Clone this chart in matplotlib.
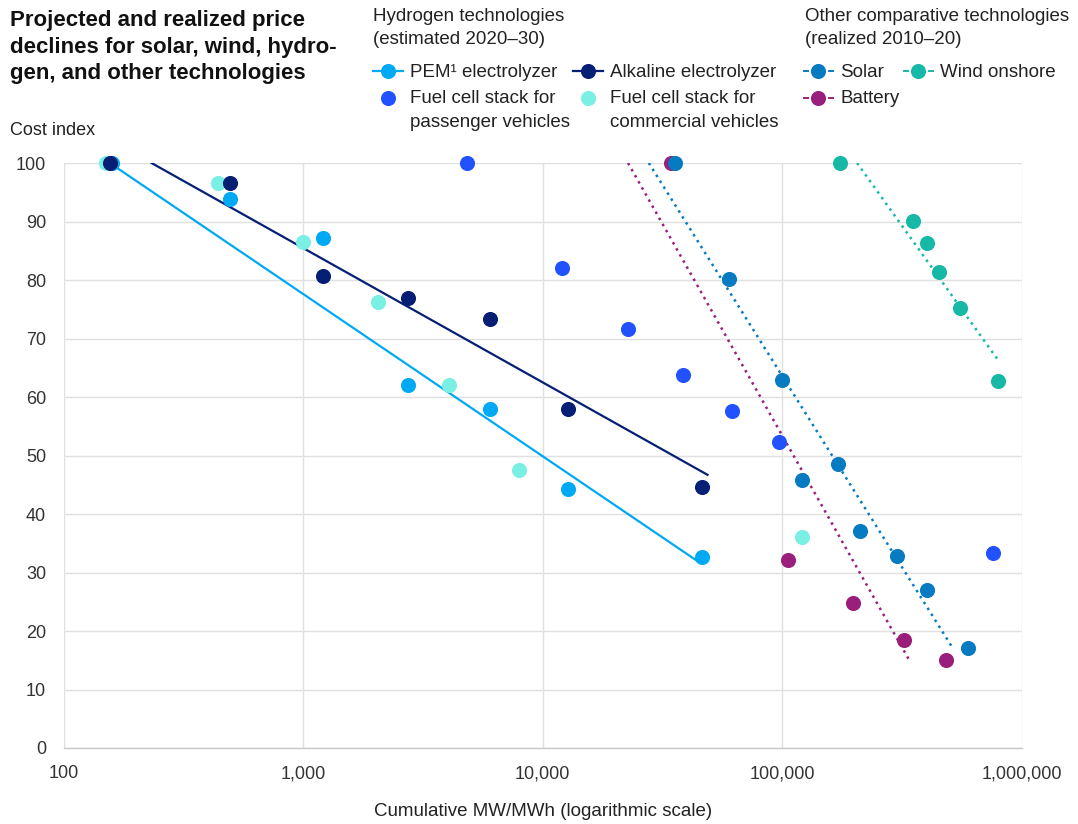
import matplotlib.pyplot as plt
from matplotlib.ticker import FixedLocator, FuncFormatter, NullLocator

plt.rcParams['font.family'] = ['Liberation Sans', 'DejaVu Sans']

# cumulative MW/MWh and cost index per technology
pem_x = [160, 495, 1214, 2742, 6012, 12760, 46100]
pem_y = [100, 93.8, 87.2, 62.1, 57.9, 44.2, 32.6]
alk_x = [156, 495, 1214, 2742, 6012, 12760, 46000]
alk_y = [100, 96.5, 80.6, 76.9, 73.4, 57.9, 44.7]
fc_pass_x = [4850, 12050, 22640, 38530, 61680, 96600, 757000]
fc_pass_y = [100, 82.1, 71.6, 63.8, 57.6, 52.3, 33.4]
fc_comm_x = [151, 443, 1000, 2057, 4047, 7925, 120500]
fc_comm_y = [100, 96.5, 86.5, 76.2, 62.1, 47.6, 36.1]
solar_x = [35560, 59700, 99800, 170700, 120500, 210400, 299700, 400000, 598000]
solar_y = [100, 80.1, 62.9, 48.5, 45.8, 37.1, 32.9, 27.0, 17.1]
battery_x = [34200, 105700, 198000, 322000, 484000]
battery_y = [100, 32.1, 24.8, 18.5, 15.1]
wind_x = [174600, 350000, 400000, 448600, 549000, 797800]
wind_y = [100, 90.1, 86.4, 81.4, 75.2, 62.7]

# trend lines (start and end points)
pem_fit_x, pem_fit_y = [156, 44400], [100, 31.9]
alk_fit_x, alk_fit_y = [233, 48700], [100, 46.7]
solar_fit_x, solar_fit_y = [27700, 510000], [100, 17.3]
battery_fit_x, battery_fit_y = [22700, 343000], [100, 14.6]
wind_fit_x, wind_fit_y = [205000, 798000], [100, 66.2]

x_ticks = [100, 1000, 10000, 100000, 1000000]
y_ticks = [0, 10, 20, 30, 40, 50, 60, 70, 80, 90, 100]

c_pem = '#00A9F4'
c_alk = '#051F75'
c_pass = '#2251FF'
c_comm = '#7AEFE4'
c_solar = '#067BC2'
c_battery = '#9A1F7C'
c_wind = '#16B8A6'
c_text = '#222222'
fs = 13.5

W, H = 1078, 824
fig = plt.figure(figsize=(W / 100, H / 100), dpi=100)

ax = fig.add_axes([63.5 / W, 1 - 748 / H, (1022 - 63.5) / W, 585 / H])
ax.set_xscale('log')
ax.set_xlim(100, 1e6)
ax.set_ylim(0, 100)
ax.xaxis.set_major_locator(FixedLocator(x_ticks))
ax.xaxis.set_minor_locator(NullLocator())
ax.xaxis.set_major_formatter(FuncFormatter(lambda v, p: '{:,.0f}'.format(v)))
ax.yaxis.set_major_locator(FixedLocator(y_ticks))
ax.grid(True, color='#E0E0E0', lw=1.0)
ax.set_axisbelow(True)
for s in ['top', 'right', 'left']:
    ax.spines[s].set_visible(False)
ax.spines['bottom'].set_color('#C8C8C8')
ax.spines['bottom'].set_linewidth(1.0)
ax.tick_params(length=0, labelsize=13, labelcolor='#333333')
ax.tick_params(axis='y', pad=12.5)
ax.tick_params(axis='x', pad=12.5)

# trend lines
ax.plot(pem_fit_x, pem_fit_y, color=c_pem, lw=1.6, zorder=2)
ax.plot(alk_fit_x, alk_fit_y, color=c_alk, lw=1.6, zorder=2)
dots = (0, (1.0, 1.8))
ax.plot(solar_fit_x, solar_fit_y, color=c_solar, lw=1.8, ls=dots, zorder=2)
ax.plot(battery_fit_x, battery_fit_y, color=c_battery, lw=1.8, ls=dots, zorder=2)
ax.plot(wind_fit_x, wind_fit_y, color=c_wind, lw=1.8, ls=dots, zorder=2)

# data points
ms = 118
for xs, ys, c in [(fc_comm_x, fc_comm_y, c_comm), (pem_x, pem_y, c_pem),
                  (alk_x, alk_y, c_alk), (fc_pass_x, fc_pass_y, c_pass),
                  (battery_x, battery_y, c_battery), (solar_x, solar_y, c_solar),
                  (wind_x, wind_y, c_wind)]:
    ax.scatter(xs, ys, s=ms, color=c, linewidths=0, zorder=3, clip_on=False)

# header, legend and axis titles in pixel coordinates
lg = fig.add_axes([0, 0, 1, 1])
lg.set_xlim(0, W)
lg.set_ylim(H, 0)
lg.axis('off')


def label(x, y, s, **kw):
    kw.setdefault('fontsize', fs)
    kw.setdefault('color', c_text)
    kw.setdefault('va', 'baseline')
    lg.text(x, y, s, **kw)


title = ['Projected and realized price',
         'declines for solar, wind, hydro-',
         'gen, and other technologies']
for i, line in enumerate(title):
    label(10, 26 + 26.7 * i, line, fontsize=16, fontweight='bold', color='#111111')
label(10, 135, 'Cost index', fontsize=13)
label(543, 812, 'Cumulative MW/MWh (logarithmic scale)', ha='center', va='center')

label(373, 20.7, 'Hydrogen technologies')
label(373, 44, '(estimated 2020–30)')
label(805, 20.7, 'Other comparative technologies')
label(805, 44, '(realized 2010–20)')


def swatch(x, y, c, style):
    if style == 'solid':
        lg.plot([x - 15, x + 15], [y, y], color=c, lw=1.6)
    elif style == 'dotted':
        lg.plot([x - 14, x - 10], [y, y], color=c, lw=1.4)
        lg.plot([x + 11, x + 15], [y, y], color=c, lw=1.4)
    lg.scatter([x], [y], s=ms, color=c, linewidths=0, zorder=3)


mk1, mk2 = 70.5, 97.5
base1, base2, base3 = 76.7, 103.3, 127
swatch(388, mk1, c_pem, 'solid')
label(410, base1, 'PEM¹ electrolyzer')
swatch(588, mk1, c_alk, 'solid')
label(610, base1, 'Alkaline electrolyzer')
swatch(388, mk2, c_pass, 'dot')
label(410, base2, 'Fuel cell stack for')
label(410, base3, 'passenger vehicles')
swatch(588, mk2, c_comm, 'dot')
label(610, base2, 'Fuel cell stack for')
label(610, base3, 'commercial vehicles')
swatch(818, mk1, c_solar, 'dotted')
label(840, base1, 'Solar')
swatch(918, mk1, c_wind, 'dotted')
label(940, base1, 'Wind onshore')
swatch(818, mk2, c_battery, 'dotted')
label(840, base2, 'Battery')

fig.savefig('out.png', dpi=100, facecolor='white')
